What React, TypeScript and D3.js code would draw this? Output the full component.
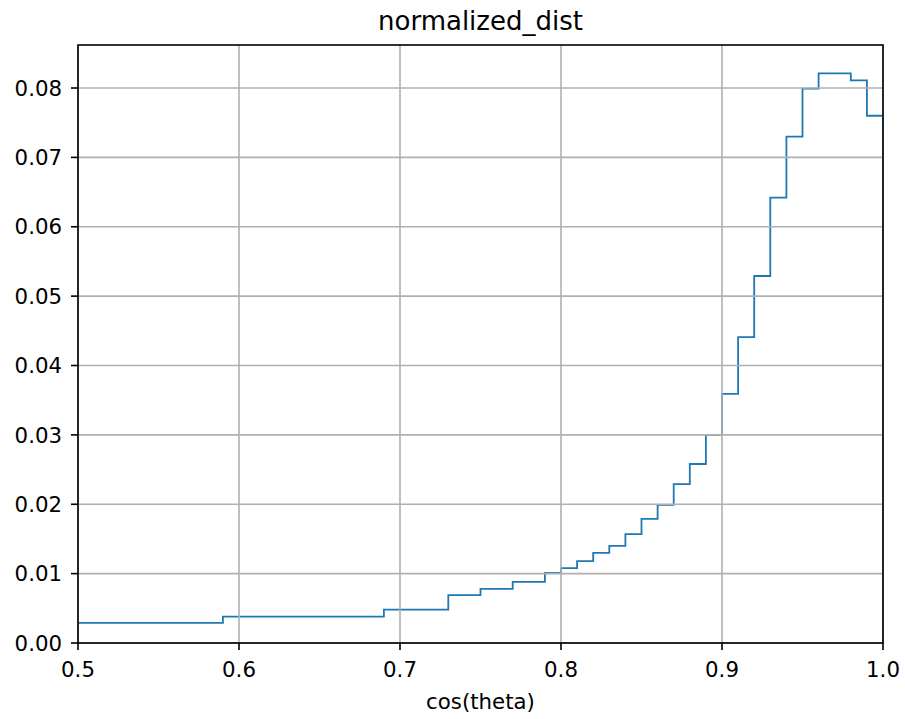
import React from "react";
import * as d3 from "d3";

// Histogram step edges (cos(theta)) and normalized values per step
const binEdges = [0.5, 0.59, 0.69, 0.73, 0.75, 0.77, 0.79, 0.8, 0.81, 0.82, 0.83, 0.84, 0.85, 0.86, 0.87, 0.88, 0.89, 0.9, 0.91, 0.92, 0.93, 0.94, 0.95, 0.96, 0.98, 0.99, 1.0];
const binValues = [0.0029, 0.0038, 0.0048, 0.0069, 0.0078, 0.0088, 0.0101, 0.0108, 0.0118, 0.013, 0.014, 0.0157, 0.0179, 0.0199, 0.0229, 0.0258, 0.03, 0.0359, 0.0441, 0.0529, 0.0642, 0.073, 0.0799, 0.0821, 0.0811, 0.076];
const xTicks = [0.5, 0.6, 0.7, 0.8, 0.9, 1.0];
const yTicks = [0, 0.01, 0.02, 0.03, 0.04, 0.05, 0.06, 0.07, 0.08];
const titleText = "normalized_dist";
const xLabelText = "cos(theta)";

const W = 905;
const H = 719;
const left = 78;
const right = 883;
const top = 45;
const bottom = 643;
const FONT = "'DejaVu Sans', sans-serif";
const TICK_FS = 21.3;

export default function App() {
  const x = d3.scaleLinear().domain([0.5, 1.0]).range([left, right]);
  const y = d3.scaleLinear().domain([0, 0.0862]).range([bottom, top]);

  const pts: [number, number][] = [[binEdges[0], 0]];
  binValues.forEach((v, i) => {
    pts.push([binEdges[i], v]);
    pts.push([binEdges[i + 1], v]);
  });
  pts.push([binEdges[binEdges.length - 1], 0]);
  const line = d3
    .line<[number, number]>()
    .x((d) => x(d[0]))
    .y((d) => y(d[1]));

  return (
    <div style={{ position: "absolute", left: 0, top: 0 }}>
      <svg width={W} height={H} style={{ display: "block", background: "#fff" }}>
        <defs>
          <clipPath id="plotclip">
            <rect x={left} y={top} width={right - left} height={bottom - top} />
          </clipPath>
        </defs>
        <rect x={0} y={0} width={W} height={H} fill="#fff" />
        <path
          d={line(pts) || ""}
          fill="none"
          stroke="#1f77b4"
          strokeWidth={1.8}
          clipPath="url(#plotclip)"
        />
        {xTicks.map((t) => (
          <line key={"gx" + t} x1={x(t)} x2={x(t)} y1={top} y2={bottom} stroke="#b0b0b0" strokeWidth={1.6} />
        ))}
        {yTicks.map((t) => (
          <line key={"gy" + t} x1={left} x2={right} y1={y(t)} y2={y(t)} stroke="#b0b0b0" strokeWidth={1.6} />
        ))}
        <rect x={left} y={top} width={right - left} height={bottom - top} fill="none" stroke="#000" strokeWidth={1.6} />
        {xTicks.map((t) => (
          <g key={"tx" + t}>
            <line x1={x(t)} x2={x(t)} y1={bottom} y2={bottom + 7} stroke="#000" strokeWidth={1.6} />
            <text x={x(t)} y={677} textAnchor="middle" fontFamily={FONT} fontSize={TICK_FS} fill="#000">
              {d3.format(".1f")(t)}
            </text>
          </g>
        ))}
        {yTicks.map((t) => (
          <g key={"ty" + t}>
            <line x1={left - 7} x2={left} y1={y(t)} y2={y(t)} stroke="#000" strokeWidth={1.6} />
            <text x={62} y={y(t)} dy="0.36em" textAnchor="end" fontFamily={FONT} fontSize={TICK_FS} fill="#000">
              {d3.format(".2f")(t)}
            </text>
          </g>
        ))}
        <text x={(left + right) / 2} y={709} textAnchor="middle" fontFamily={FONT} fontSize={TICK_FS} fill="#000">
          {xLabelText}
        </text>
        <text x={(left + right) / 2} y={30} textAnchor="middle" fontFamily={FONT} fontSize={26} fill="#000">
          {titleText}
        </text>
      </svg>
    </div>
  );
}
